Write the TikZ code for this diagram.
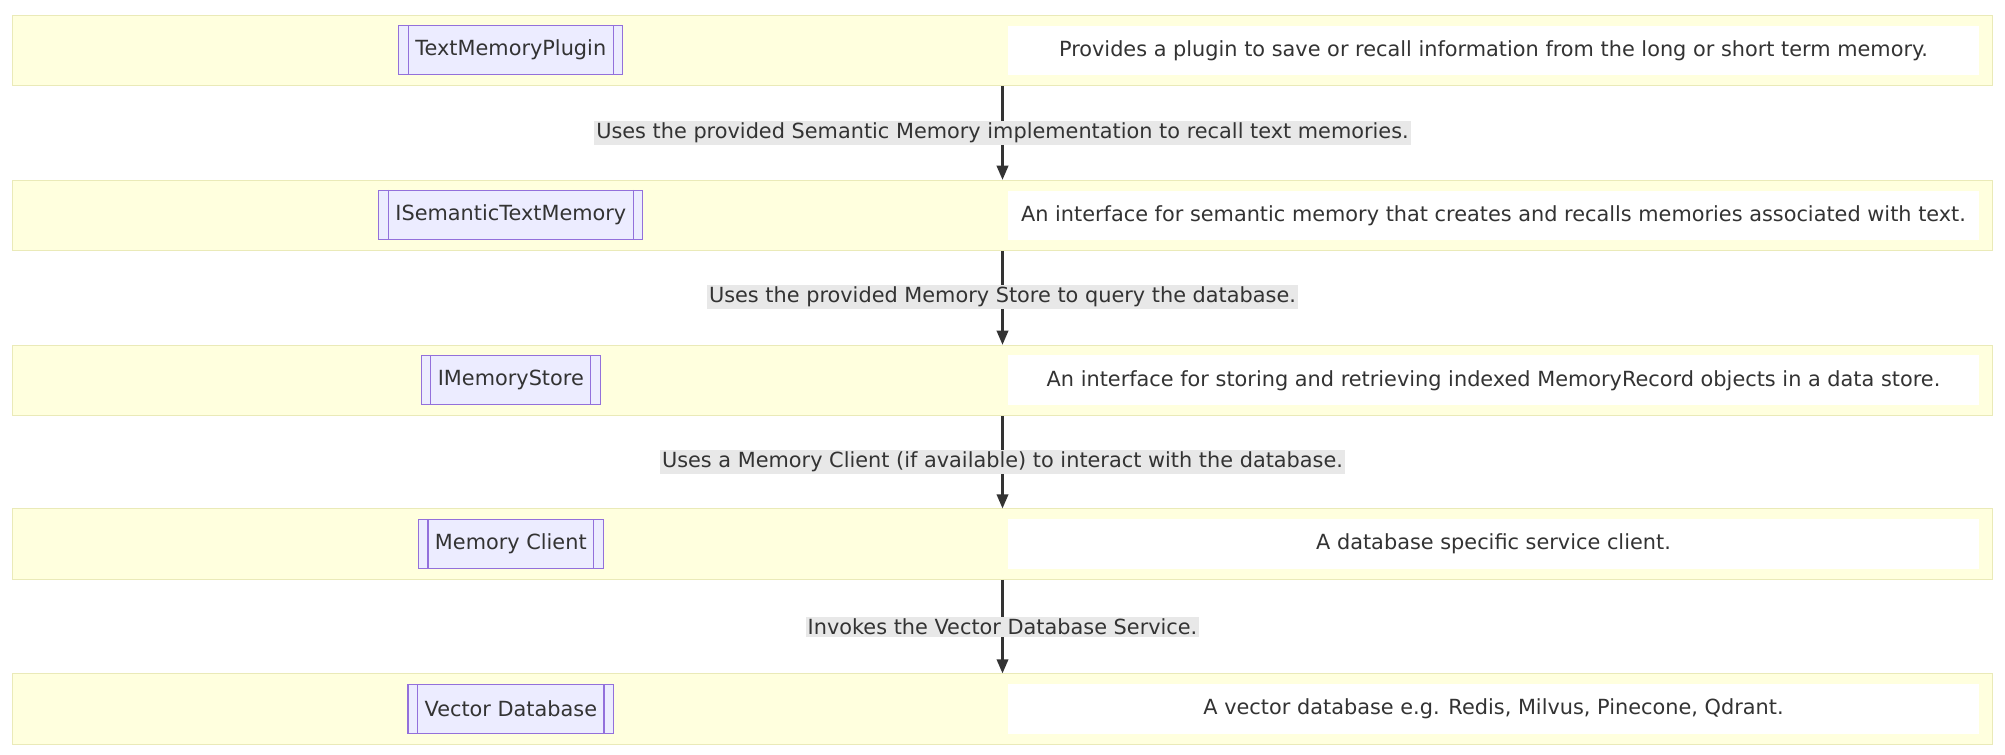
\documentclass[tikz,border=0pt]{standalone}
\usepackage{fontspec}
\setmainfont{DejaVu Sans}
\usetikzlibrary{arrows.meta}
\definecolor{bandfill}{HTML}{FFFFDE}
\definecolor{bandline}{HTML}{EAEAB8}
\definecolor{boxfill}{HTML}{ECECFF}
\definecolor{boxline}{HTML}{9370DB}
\definecolor{lblfill}{HTML}{E8E8E8}
\definecolor{ink}{HTML}{333333}
\begin{document}
\begin{tikzpicture}[x=1pt,y=-1pt,
  band/.style={draw=bandline,fill=bandfill,line width=0.8pt,minimum width=1548pt,minimum height=55pt,inner sep=0pt},
  sub/.style={draw=boxline,fill=boxfill,line width=0.9pt,minimum height=38pt,inner xsep=13pt,font=\fontsize{16.3}{19}\selectfont,text=ink},
  desc/.style={fill=white,minimum width=760pt,minimum height=39pt,font=\fontsize{16.3}{19}\selectfont,text=ink},
  lbl/.style={fill=lblfill,inner sep=1.5pt,font=\fontsize{16.3}{19}\selectfont,text=ink},
  arr/.style={draw=ink,line width=1.6pt,-{Triangle[length=11pt,width=9pt]}}]
\useasboundingbox (0,0) rectangle (1568,590);
\fill[white] (0,0) rectangle (1568,590);
\foreach \i/\y in {1/39.5,2/168.5,3/297.5,4/425.5,5/554.5}{\node[band] (b\i) at (784,\y) {};}
\node[sub] (s1) at (399.5,39) {TextMemoryPlugin};
\node[sub] (s2) at (399.5,168) {ISemanticTextMemory};
\node[sub] (s3) at (399.5,297) {IMemoryStore};
\node[sub] (s4) at (399.5,425.5) {Memory Client};
\node[sub] (s5) at (399.5,554.5) {Vector Database};
\foreach \i in {1,...,5}{
  \draw[boxline,line width=0.9pt] ([xshift=8pt]s\i.north west) -- ([xshift=8pt]s\i.south west);
  \draw[boxline,line width=0.9pt] ([xshift=-8pt]s\i.north east) -- ([xshift=-8pt]s\i.south east);}
\node[desc] (d1) at (1168,39.5) {Provides a plugin to save or recall information from the long or short term memory.};
\node[desc] (d2) at (1168,168.5) {An interface for semantic memory that creates and recalls memories associated with text.};
\node[desc] (d3) at (1168,297.5) {An interface for storing and retrieving indexed MemoryRecord objects in a data store.};
\node[desc] (d4) at (1168,425.5) {A database specific service client.};
\node[desc] (d5) at (1168,554.5) {A vector database e.g. Redis, Milvus, Pinecone, Qdrant.};
\draw[arr] (b1.south) -- (b2.north);
\draw[arr] (b2.south) -- (b3.north);
\draw[arr] (b3.south) -- (b4.north);
\draw[arr] (b4.south) -- (b5.north);
\node[lbl] (l1) at (784,104) {Uses the provided Semantic Memory implementation to recall text memories.};
\node[lbl] (l2) at (784,232) {Uses the provided Memory Store to query the database.};
\node[lbl] (l3) at (784,361) {Uses a Memory Client (if available) to interact with the database.};
\node[lbl] (l4) at (784,490) {Invokes the Vector Database Service.};
\end{tikzpicture}
\end{document}
